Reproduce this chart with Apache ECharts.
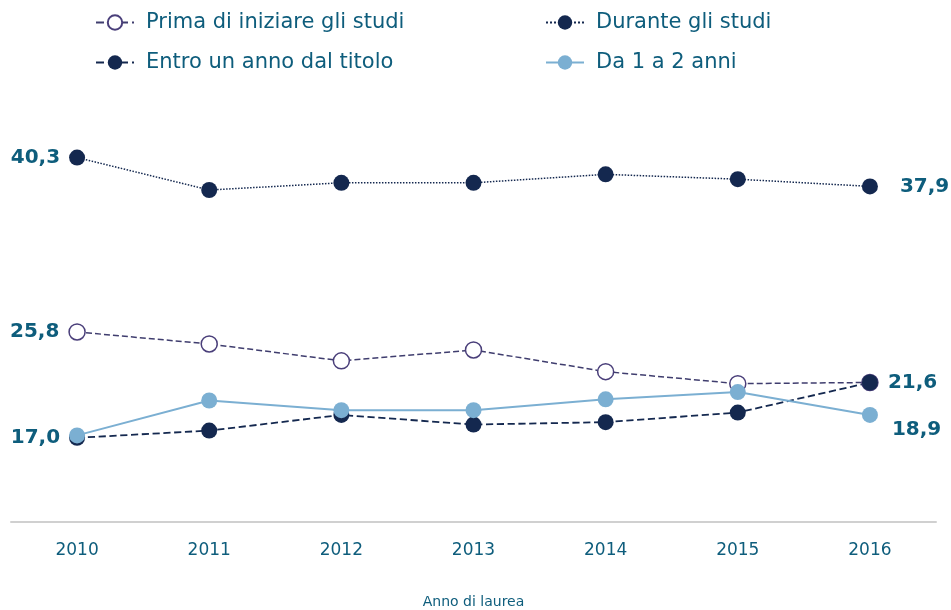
<!DOCTYPE html>
<html>
<head>
<meta charset="utf-8">
<script src="https://cdn.jsdelivr.net/npm/echarts@6/dist/echarts.min.js"></script>
<style>
  html, body { margin: 0; padding: 0; background: #fff; }
  #chart { width: 951px; height: 610px; }
</style>
</head>
<body>
<div id="chart"></div>
<script>
const years = ['2010', '2011', '2012', '2013', '2014', '2015', '2016'];
const prima = [25.8, 24.8, 23.4, 24.3, 22.5, 21.5, 21.6];
const durante = [40.3, 37.6, 38.2, 38.2, 38.9, 38.5, 37.9];
const entro = [17.0, 17.6, 18.9, 18.1, 18.3, 19.1, 21.6];
const daUnoADue = [17.2, 20.1, 19.3, 19.3, 20.2, 20.8, 18.9];

const labelColor = '#0e5d7c';
const font = 'DejaVu Sans';

function fmt(v) {
  return v.toFixed(1).replace('.', ',');
}

// mostra l'etichetta solo sui punti indicati
function withLabels(values, labels) {
  return values.map((v, i) => {
    if (!labels[i]) return v;
    return {
      value: v,
      label: Object.assign({
        show: true,
        formatter: p => fmt(p.value),
        color: labelColor,
        fontFamily: font,
        fontWeight: 'bold',
        fontSize: 20
      }, labels[i])
    };
  });
}

const legendBase = {
  orient: 'vertical',
  top: 12,
  padding: 0,
  itemWidth: 38,
  itemHeight: 18,
  itemGap: 19,
  textStyle: { color: labelColor, fontFamily: font, fontSize: 21, padding: [0, 0, 0, 7] }
};

const chart = echarts.init(document.getElementById('chart'));

chart.setOption({
  animation: false,
  legend: [
    Object.assign({}, legendBase, {
      left: 95,
      data: ['Prima di iniziare gli studi', 'Entro un anno dal titolo']
    }),
    Object.assign({}, legendBase, {
      left: 545,
      data: ['Durante gli studi', 'Da 1 a 2 anni']
    })
  ],
  grid: {
    left: 11,
    right: 15,
    top: 101,
    bottom: 88,
    outerBoundsMode: 'none'
  },
  xAxis: {
    type: 'category',
    boundaryGap: true,
    data: years,
    name: 'Anno di laurea',
    nameLocation: 'middle',
    nameGap: 73,
    nameTextStyle: { color: labelColor, fontFamily: font, fontSize: 14 },
    axisLine: { lineStyle: { color: '#d0d0d0', width: 2 } },
    axisTick: { show: false },
    axisLabel: { color: labelColor, fontFamily: font, fontSize: 17, margin: 20 }
  },
  yAxis: {
    type: 'value',
    min: 10,
    max: 45,
    show: false
  },
  series: [
    {
      name: 'Prima di iniziare gli studi',
      type: 'line',
      symbol: 'circle',
      symbolSize: 16,
      itemStyle: { color: '#ffffff', borderColor: '#4a3f7a', borderWidth: 1.5 },
      lineStyle: { color: '#3f3d6e', type: 'dashed', width: 1.5 },
      data: withLabels(prima, { 0: { position: 'left', distance: 9 } })
    },
    {
      name: 'Durante gli studi',
      type: 'line',
      symbol: 'circle',
      symbolSize: 16,
      itemStyle: { color: '#14284f' },
      lineStyle: { color: '#14284f', type: 'dotted', width: 1.5 },
      data: withLabels(durante, {
        0: { position: 'left', distance: 9 },
        6: { position: 'right', distance: 22 }
      })
    },
    {
      name: 'Entro un anno dal titolo',
      type: 'line',
      symbol: 'circle',
      symbolSize: 16,
      itemStyle: { color: '#14284f' },
      lineStyle: { color: '#14284f', type: 'dashed', width: 1.8 },
      data: withLabels(entro, {
        0: { position: 'left', distance: 9 },
        6: { position: 'right', distance: 10 }
      })
    },
    {
      name: 'Da 1 a 2 anni',
      type: 'line',
      symbol: 'circle',
      symbolSize: 16,
      itemStyle: { color: '#7bafd2' },
      lineStyle: { color: '#7bafd2', width: 2 },
      data: withLabels(daUnoADue, { 6: { position: 'right', distance: 14, offset: [0, 15] } })
    }
  ]
});
</script>
</body>
</html>
